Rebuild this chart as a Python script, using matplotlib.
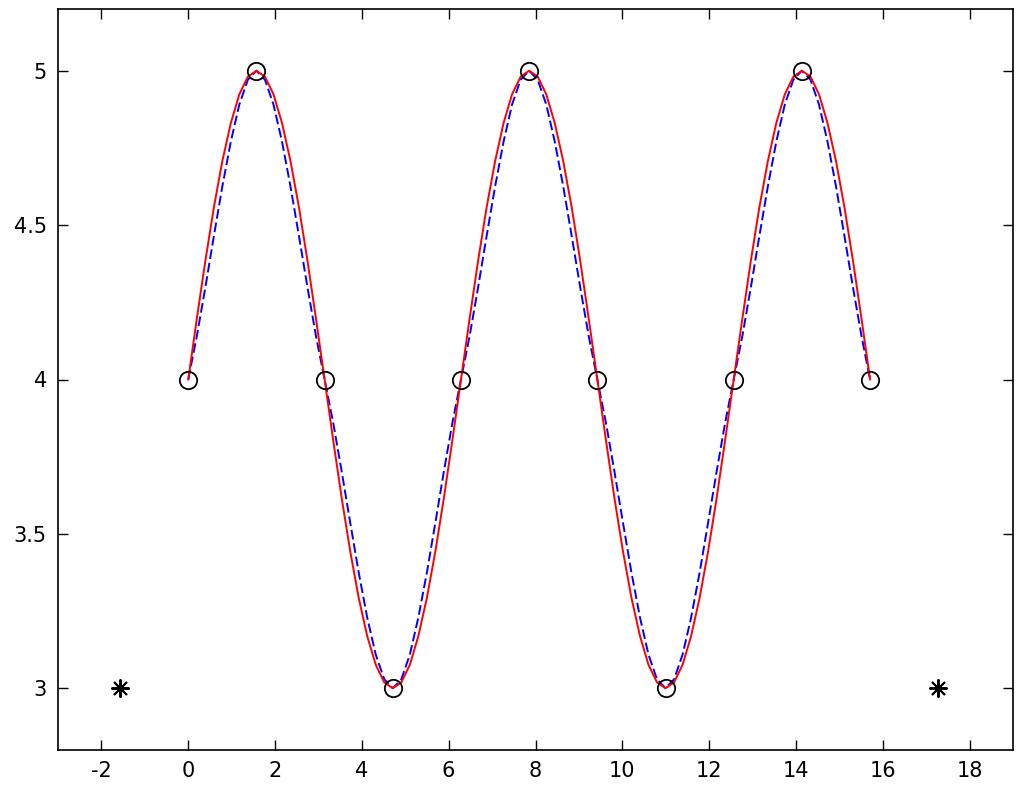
import matplotlib
matplotlib.use("Agg")
import matplotlib.pyplot as plt

# knot points (circles) and end points (stars)
knot_x = [0.000, 1.571, 3.142, 4.712, 6.283, 7.854, 9.425, 10.996, 12.566, 14.137, 15.708]
knot_y = [4, 5, 4, 3, 4, 5, 4, 3, 4, 5, 4]
end_x = [-1.571, 17.279]
end_y = [3, 3]

# fine sample positions for the curves
curve_x = [0.000, 0.196, 0.393, 0.589, 0.785, 0.982, 1.178, 1.374, 1.571, 1.767,
           1.963, 2.160, 2.356, 2.553, 2.749, 2.945, 3.142, 3.338, 3.534, 3.731,
           3.927, 4.123, 4.320, 4.516, 4.712, 4.909, 5.105, 5.301, 5.498, 5.694,
           5.890, 6.087, 6.283, 6.480, 6.676, 6.872, 7.069, 7.265, 7.461, 7.658,
           7.854, 8.050, 8.247, 8.443, 8.639, 8.836, 9.032, 9.228, 9.425, 9.621,
           9.817, 10.014, 10.210, 10.407, 10.603, 10.799, 10.996, 11.192, 11.388, 11.585,
           11.781, 11.977, 12.174, 12.370, 12.566, 12.763, 12.959, 13.155, 13.352, 13.548,
           13.744, 13.941, 14.137, 14.334, 14.530, 14.726, 14.923, 15.119, 15.315, 15.512,
           15.708]

# red solid curve (smooth spline)
red_y = [4.000, 4.195, 4.383, 4.556, 4.707, 4.831, 4.924, 4.981, 5.000, 4.981,
         4.924, 4.831, 4.707, 4.556, 4.383, 4.195, 4.000, 3.805, 3.617, 3.444,
         3.293, 3.169, 3.076, 3.019, 3.000, 3.019, 3.076, 3.169, 3.293, 3.444,
         3.617, 3.805, 4.000, 4.195, 4.383, 4.556, 4.707, 4.831, 4.924, 4.981,
         5.000, 4.981, 4.924, 4.831, 4.707, 4.556, 4.383, 4.195, 4.000, 3.805,
         3.617, 3.444, 3.293, 3.169, 3.076, 3.019, 3.000, 3.019, 3.076, 3.169,
         3.293, 3.444, 3.617, 3.805, 4.000, 4.195, 4.383, 4.556, 4.707, 4.831,
         4.924, 4.981, 5.000, 4.981, 4.924, 4.831, 4.707, 4.556, 4.383, 4.195,
         4.000]

# blue dashed curve (shape-preserving)
blue_y = [4.000, 4.139, 4.297, 4.463, 4.625, 4.771, 4.891, 4.971, 5.000, 4.971,
          4.891, 4.771, 4.625, 4.463, 4.297, 4.139, 4.000, 3.861, 3.703, 3.537,
          3.375, 3.229, 3.109, 3.029, 3.000, 3.029, 3.109, 3.229, 3.375, 3.537,
          3.703, 3.861, 4.000, 4.139, 4.297, 4.463, 4.625, 4.771, 4.891, 4.971,
          5.000, 4.971, 4.891, 4.771, 4.625, 4.463, 4.297, 4.139, 4.000, 3.861,
          3.703, 3.537, 3.375, 3.229, 3.109, 3.029, 3.000, 3.029, 3.109, 3.229,
          3.375, 3.537, 3.703, 3.861, 4.000, 4.139, 4.297, 4.463, 4.625, 4.771,
          4.891, 4.971, 5.000, 4.971, 4.891, 4.771, 4.625, 4.463, 4.297, 4.139,
          4.000]

x_ticks = [-2, 0, 2, 4, 6, 8, 10, 12, 14, 16, 18]
x_labels = ["-2", "0", "2", "4", "6", "8", "10", "12", "14", "16", "18"]
y_ticks = [3, 3.5, 4, 4.5, 5]
y_labels = ["3", "3.5", "4", "4.5", "5"]

fig = plt.figure(figsize=(10.24, 7.94), dpi=100)
ax = fig.add_axes([58 / 1024, 1 - 750 / 794, (1013 - 58) / 1024, (750 - 9) / 794])

ax.plot(curve_x, blue_y, color="#0000ff", linestyle=(0, (5, 2)), linewidth=1.4)
ax.plot(curve_x, red_y, color="#ff0000", linestyle="-", linewidth=1.4)
ax.plot(knot_x, knot_y, linestyle="none", marker="o", markersize=12.5,
        markerfacecolor="none", markeredgecolor="black", markeredgewidth=1.3)
ax.plot(end_x, end_y, linestyle="none", marker=(8, 2, 0), markersize=13,
        markeredgecolor="black", markeredgewidth=1.4, color="black")

ax.set_xlim(-3, 19)
ax.set_ylim(2.8, 5.2)
ax.set_xticks(x_ticks)
ax.set_xticklabels(x_labels)
ax.set_yticks(y_ticks)
ax.set_yticklabels(y_labels)
ax.tick_params(direction="in", length=7, width=1, top=True, right=True,
               labelsize=15, pad=8, colors="black")
for s in ax.spines.values():
    s.set_linewidth(1.2)
    s.set_color("black")

fig.savefig("out.png", dpi=100)
